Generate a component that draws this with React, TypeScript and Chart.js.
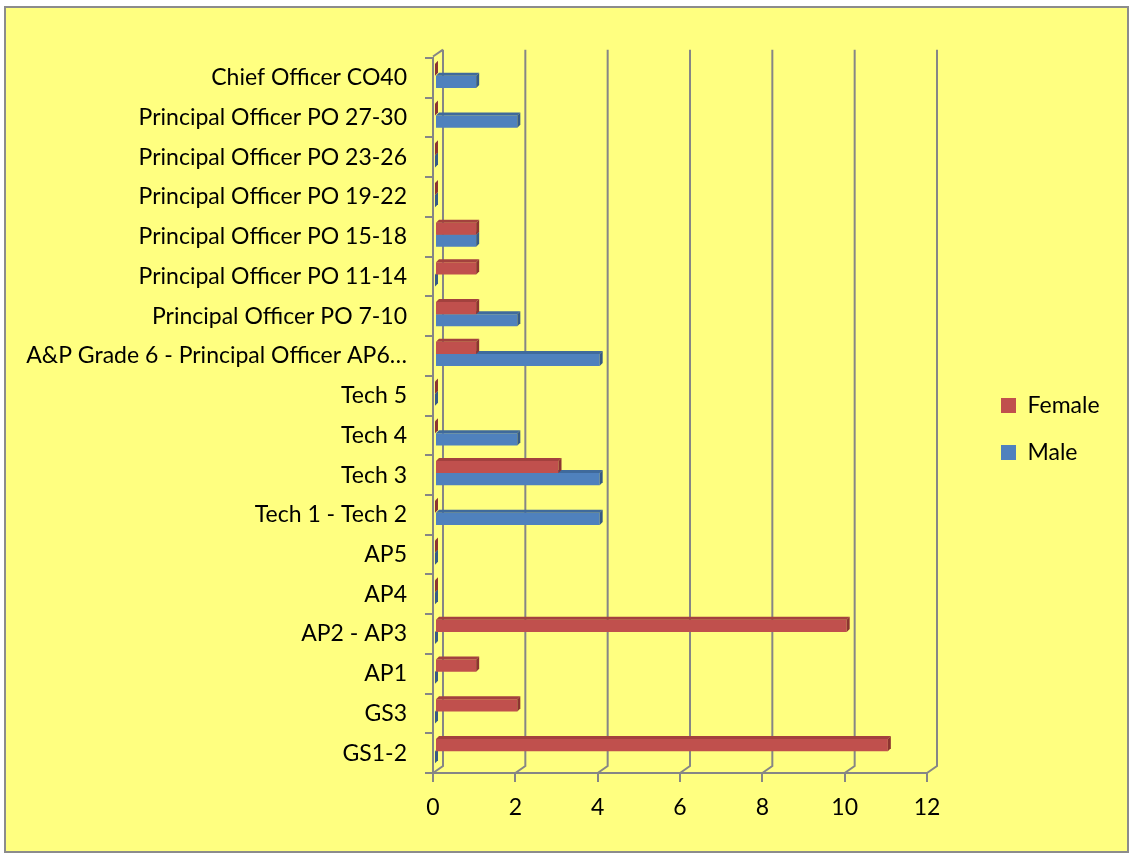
import React, { useEffect, useRef } from "react";
import { Chart, registerables } from "chart.js";

Chart.register(...registerables);

const categories = [
  "Chief Officer CO40",
  "Principal Officer PO 27-30",
  "Principal Officer PO 23-26",
  "Principal Officer PO 19-22",
  "Principal Officer PO 15-18",
  "Principal Officer PO 11-14",
  "Principal Officer PO 7-10",
  "A&P Grade 6 - Principal Officer AP6…",
  "Tech 5",
  "Tech 4",
  "Tech 3",
  "Tech 1 - Tech 2",
  "AP5",
  "AP4",
  "AP2 - AP3",
  "AP1",
  "GS3",
  "GS1-2",
];
const femaleValues = [0, 0, 0, 0, 1, 1, 1, 1, 0, 0, 3, 0, 0, 0, 10, 1, 2, 11];
const maleValues = [1, 2, 0, 0, 1, 0, 2, 4, 0, 2, 4, 4, 0, 0, 0, 0, 0, 0];
const xTickValues = [0, 2, 4, 6, 8, 10, 12];

const W = 1131;
const H = 854;
const FONT_FAMILY = "Lato";
const FS = 23;
const GRID = "#868686";
const DEPTH = 3;

const faceColors: Record<string, { top: string; side: string }> = {
  Female: { top: "#A3413E", side: "#8C3431" },
  Male: { top: "#3F6A9C", side: "#365A86" },
};

const threeD = {
  id: "threeD",
  beforeDatasetsDraw(chart: any) {
    const { ctx, chartArea, scales } = chart;
    const { left, top, bottom } = chartArea;
    const xs = scales.x;
    const dx = 10;
    const dy = 7;
    ctx.save();
    ctx.strokeStyle = GRID;
    ctx.lineWidth = 2;
    ctx.beginPath();
    ctx.moveTo(left, top - 1.5);
    ctx.lineTo(left + dx, top - 8.3);
    for (const v of xTickValues) {
      const xf = xs.getPixelForValue(v);
      ctx.moveTo(xf, bottom);
      ctx.lineTo(xf + dx, bottom - dy);
      ctx.lineTo(xf + dx, top - 8.3);
    }
    ctx.stroke();
    ctx.restore();
    ctx.save();
    ctx.translate(2, -2);
  },
  afterDatasetDraw(chart: any, args: any) {
    const { ctx } = chart;
    const meta = args.meta;
    const label = chart.data.datasets[args.index].label;
    const colors = faceColors[label];
    meta.data.forEach((el: any) => {
      const { x, y, base, height } = el.getProps(["x", "y", "base", "height"], true);
      const t = y - height / 2;
      const b = y + height / 2;
      const xr = Math.max(x, base);
      const xl = Math.min(x, base);
      ctx.save();
      ctx.fillStyle = colors.top;
      ctx.beginPath();
      ctx.moveTo(xl, t);
      ctx.lineTo(xl + DEPTH, t - DEPTH);
      ctx.lineTo(xr + DEPTH, t - DEPTH);
      ctx.lineTo(xr, t);
      ctx.closePath();
      ctx.fill();
      ctx.fillStyle = colors.side;
      ctx.beginPath();
      ctx.moveTo(xr, t);
      ctx.lineTo(xr + DEPTH, t - DEPTH);
      ctx.lineTo(xr + DEPTH, b - DEPTH);
      ctx.lineTo(xr, b);
      ctx.closePath();
      ctx.fill();
      ctx.restore();
    });
  },
  afterDatasetsDraw(chart: any) {
    chart.ctx.restore();
  },
};

export default function App() {
  const ref = useRef<HTMLCanvasElement>(null);

  useEffect(() => {
    const canvas = ref.current!;
    const mctx = canvas.getContext("2d")!;
    mctx.font = `${FS}px ${FONT_FAMILY}`;
    const textW = Math.max(
      mctx.measureText("Female").width,
      mctx.measureText("Male").width
    );
    const legendPad = 24;
    const boxW = 15;
    const legendW = legendPad + boxW + FS / 2 + textW + 10;
    const legendLeft = 977;
    const padRight = Math.max(0, W - legendLeft - legendW);
    const padTop = 4;
    const chartTop = 58;
    const chartBottom = 773;
    const chartLeft = 433;
    const chartRight = 927;

    const chart = new Chart(canvas, {
      type: "bar",
      data: {
        labels: categories,
        datasets: [
          {
            label: "Female",
            data: femaleValues,
            backgroundColor: "#C0504D",
            borderWidth: 0,
            xAxisID: "x",
            yAxisID: "y",
            clip: false as any,
          },
          {
            label: "Male",
            data: maleValues,
            backgroundColor: "#4F81BD",
            borderWidth: 0,
            xAxisID: "x",
            yAxisID: "y",
            clip: false as any,
          },
        ],
      },
      options: {
        indexAxis: "y",
        responsive: false,
        animation: false,
        devicePixelRatio: 1,
        datasets: { bar: { categoryPercentage: 0.61, barPercentage: 1 } },
        layout: { padding: { top: padTop, right: padRight, bottom: 0, left: 0 } },
        plugins: {
          tooltip: { enabled: false },
          legend: {
            position: "right",
            labels: {
              boxWidth: boxW,
              boxHeight: 15,
              padding: legendPad,
              color: "#000",
              font: { family: FONT_FAMILY, size: FS },
            },
          },
        },
        scales: {
          x: {
            type: "linear",
            axis: "x",
            position: "bottom",
            min: 0,
            max: 12,
            afterBuildTicks: (s: any) => {
              s.ticks = xTickValues.map((v) => ({ value: v }));
            },
            afterFit: (s: any) => {
              s.height = H - chartBottom;
            },
            grid: { drawOnChartArea: false, color: GRID, lineWidth: 2, tickLength: 9 },
            border: { color: GRID, width: 2 },
            ticks: {
              color: "#000",
              padding: 12,
              font: { family: FONT_FAMILY, size: FS },
              maxRotation: 0,
            },
          },
          xTop: {
            type: "linear",
            axis: "x",
            position: "top",
            grid: { display: false },
            border: { display: false },
            ticks: { display: false },
            afterFit: (s: any) => {
              s.height = chartTop - padTop;
            },
          },
          y: {
            type: "category",
            axis: "y",
            position: "left",
            afterFit: (s: any) => {
              s.width = chartLeft;
            },
            grid: { offset: true, drawOnChartArea: false, color: GRID, lineWidth: 2, tickLength: 8 },
            border: { color: GRID, width: 2 },
            ticks: {
              color: "#000",
              padding: 18,
              autoSkip: false,
              font: { family: FONT_FAMILY, size: FS },
            },
          },
          yRight: {
            type: "linear",
            axis: "y",
            position: "right",
            grid: { display: false },
            border: { display: false },
            ticks: { display: false },
            afterFit: (s: any) => {
              s.width = legendLeft - chartRight;
            },
          },
        } as any,
      },
      plugins: [threeD as any],
    });
    return () => chart.destroy();
  }, []);

  return (
    <div style={{ position: "fixed", left: 0, top: 0, width: W, height: H, background: "#fff" }}>
      <div
        style={{
          position: "absolute",
          left: 4,
          top: 6,
          width: 1125,
          height: 847,
          boxSizing: "border-box",
          border: "2px solid #8c8c8c",
          background: "#FFFF80",
        }}
      />
      <canvas
        ref={ref}
        width={W}
        height={H}
        style={{ position: "absolute", left: 0, top: 0, width: W, height: H }}
      />
    </div>
  );
}
